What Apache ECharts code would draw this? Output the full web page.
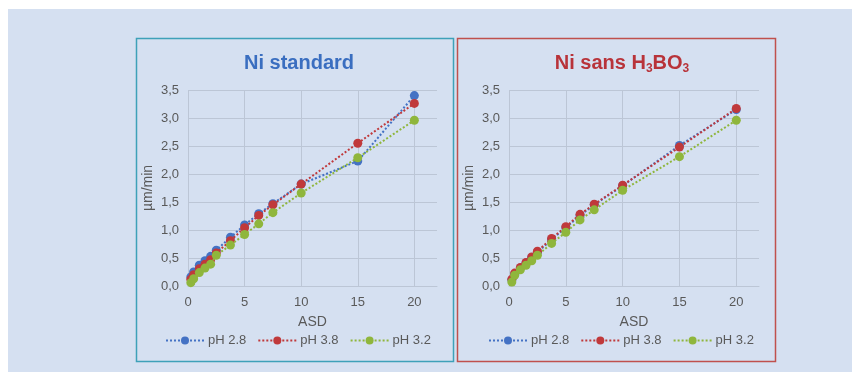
<!DOCTYPE html>
<html>
<head>
<meta charset="utf-8">
<script src="https://cdn.jsdelivr.net/npm/echarts@6/dist/echarts.min.js"></script>
<style>
  html, body { margin: 0; padding: 0; background: #ffffff; }
  #chart { width: 860px; height: 378px; }
</style>
</head>
<body>
<div id="chart"></div>
<script>
// Current density (ASD) at which each deposition rate was measured
const asd = [0.25, 0.5, 1, 1.5, 2, 2.5, 3.75, 5, 6.25, 7.5, 10, 15, 20];

// Deposition rate (µm/min), standard nickel bath
const stdPh28 = [0.16, 0.25, 0.37, 0.45, 0.53, 0.64, 0.87, 1.09, 1.29, 1.47, 1.82, 2.23, 3.40];
const stdPh38 = [0.12, 0.20, 0.31, 0.39, 0.47, 0.59, 0.81, 1.04, 1.26, 1.45, 1.82, 2.55, 3.26];
const stdPh32 = [0.06, 0.13, 0.24, 0.32, 0.39, 0.55, 0.73, 0.92, 1.11, 1.31, 1.66, 2.29, 2.96];

// Deposition rate (µm/min), nickel bath without boric acid
const sansPh28 = [0.11, 0.21, 0.32, 0.41, 0.51, 0.60, 0.83, 1.04, 1.26, 1.45, 1.79, 2.51, 3.15];
const sansPh38 = [0.12, 0.23, 0.33, 0.42, 0.52, 0.62, 0.85, 1.06, 1.28, 1.46, 1.80, 2.48, 3.17];
const sansPh32 = [0.07, 0.19, 0.29, 0.37, 0.45, 0.55, 0.76, 0.96, 1.18, 1.36, 1.71, 2.31, 2.96];

const seriesNames = ['pH 2.8', 'pH 3.8', 'pH 3.2'];
const seriesColors = ['#4472c4', '#c0393b', '#8fb63c'];
const xTicks = [0, 5, 10, 15, 20];
const yLabels = ['0,0', '0,5', '1,0', '1,5', '2,0', '2,5', '3,0', '3,5'];

const FONT = '"Liberation Sans", Arial, sans-serif';
const TXT = '#595959';
const GRID = '#bcc6d6';

function pairs(ys) { return asd.map((x, i) => [x, ys[i]]); }

function makeSeries(idx, dataSets) {
  return dataSets.map((ys, k) => ({
    name: seriesNames[k],
    type: 'line',
    xAxisIndex: idx,
    yAxisIndex: idx,
    data: pairs(ys),
    symbol: 'circle',
    symbolSize: 9,
    color: seriesColors[k],
    lineStyle: { type: 'dotted', width: 2, color: seriesColors[k] },
    itemStyle: { color: seriesColors[k] },
    emphasis: { disabled: true },
    z: 2 + k
  }));
}

function xAxis(idx) {
  return {
    gridIndex: idx, type: 'value', min: 0, max: 22, interval: 5,
    name: 'ASD', nameLocation: 'middle', nameGap: 29,
    nameTextStyle: { color: TXT, fontSize: 14, fontFamily: FONT },
    axisLine: { show: true, lineStyle: { color: GRID, width: 1 } },
    axisTick: { show: false },
    axisLabel: {
      color: TXT, fontSize: 13, fontFamily: FONT, margin: 10,
      showMaxLabel: false,
      formatter: v => (xTicks.includes(v) ? String(v) : '')
    },
    splitLine: { show: true, lineStyle: { color: [GRID, GRID, GRID, GRID, GRID, 'rgba(0,0,0,0)'], width: 1 } }
  };
}

function yAxis(idx) {
  return {
    gridIndex: idx, type: 'value', min: 0, max: 3.5, interval: 0.5,
    name: 'µm/min', nameLocation: 'middle', nameGap: 33, nameRotate: 90,
    nameTextStyle: { color: TXT, fontSize: 14, fontFamily: FONT },
    axisLine: { show: false },
    axisTick: { show: false },
    axisLabel: {
      color: TXT, fontSize: 13, fontFamily: FONT, margin: 9,
      formatter: v => yLabels[Math.round(v / 0.5)]
    },
    splitLine: { show: true, lineStyle: { color: GRID, width: 1 } }
  };
}

function legend(leftX) {
  return {
    data: seriesNames,
    left: leftX, top: 334,
    padding: 0,
    orient: 'horizontal',
    itemWidth: 38, itemHeight: 10, itemGap: 11,
    textStyle: { color: TXT, fontSize: 13, fontFamily: FONT, padding: [0, 0, 0, -1] },
    selectedMode: false
  };
}

const chart = echarts.init(document.getElementById('chart'), null, { renderer: 'canvas' });

const option = {
  animation: false,
  backgroundColor: '#ffffff',
  graphic: [
    { type: 'rect', z: -10, shape: { x: 8, y: 9, width: 844, height: 363 }, style: { fill: '#d5e0f1' } },
    { type: 'rect', z: -9, shape: { x: 136.5, y: 38.5, width: 317, height: 323 }, style: { fill: '#d5e0f1', stroke: '#3ea1b9', lineWidth: 1.5 } },
    { type: 'rect', z: -9, shape: { x: 457.5, y: 38.5, width: 318, height: 323 }, style: { fill: '#d5e0f1', stroke: '#c0504d', lineWidth: 1.5 } }
  ],
  title: [
    {
      text: 'Ni standard', left: 294, top: 48, textAlign: 'center',
      textStyle: { color: '#3a6ec0', fontSize: 20, fontWeight: 'bold', fontFamily: FONT }
    },
    {
      text: '{a|Ni sans H}{s|3}{a|BO}{s|3}', left: 617, top: 46, textAlign: 'center',
      textStyle: {
        fontFamily: FONT,
        rich: {
          a: { color: '#b8333a', fontSize: 20, fontWeight: 'bold', fontFamily: FONT, lineHeight: 24 },
          s: { color: '#b8333a', fontSize: 12, fontWeight: 'bold', fontFamily: FONT, lineHeight: 8, verticalAlign: 'bottom' }
        }
      }
    }
  ],
  legend: [
    Object.assign(legend(165), { id: 'legL' }),
    Object.assign(legend(488), { id: 'legR' })
  ],
  grid: [
    { left: 188, top: 90, width: 249, height: 196 },
    { left: 509, top: 90, width: 250, height: 196 }
  ],
  xAxis: [xAxis(0), xAxis(1)],
  yAxis: [yAxis(0), yAxis(1)],
  series: [
    ...makeSeries(0, [stdPh28, stdPh38, stdPh32]),
    ...makeSeries(1, [sansPh28, sansPh38, sansPh32])
  ]
};

chart.setOption(option);
</script>
</body>
</html>
